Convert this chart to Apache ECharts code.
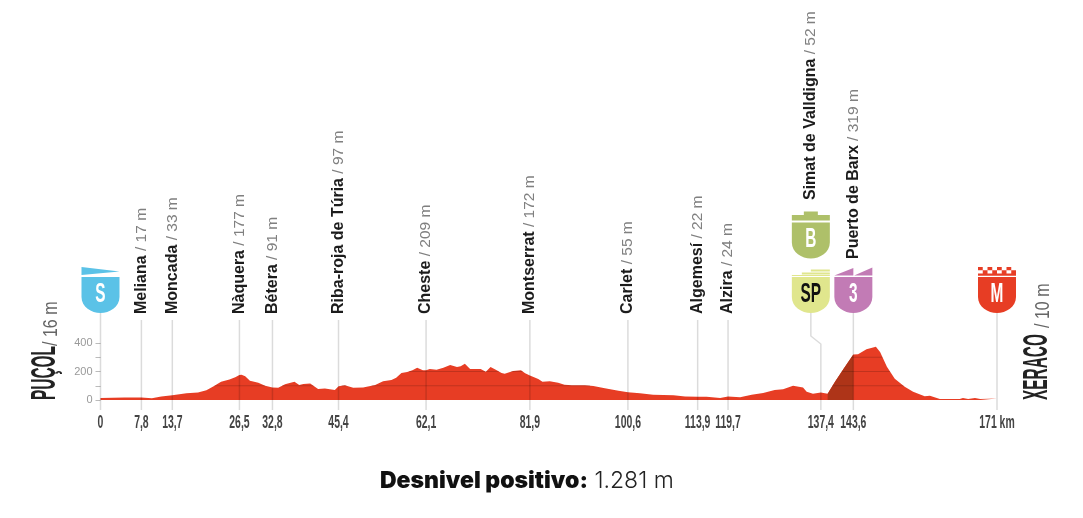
<!DOCTYPE html>
<html><head><meta charset="utf-8">
<style>html,body{margin:0;padding:0;background:#fff}#c{width:1083px;height:518px}</style>
<script src="https://cdn.jsdelivr.net/npm/echarts@6/dist/echarts.min.js"></script>
</head><body><div id="c"></div>
<script>
const profile = [[0,14],[4.6,17],[7.8,17],[9.8,12],[11.6,24],[13.7,33],[16.4,47],[18.6,52],[20.2,68],[21.5,94],[23,128],[24.6,143],[25.7,160],[26.5,175],[26.9,177],[27.6,167],[28.5,135],[30.1,121],[31.4,100],[32.8,88],[33.9,86],[35.2,110],[37,128],[37.9,105],[38.7,112],[40,115],[41.5,78],[42.8,80],[44.7,70],[45.4,97],[46.6,103],[48.2,86],[50.1,88],[52.4,105],[53.9,131],[55.5,140],[56.4,157],[57.4,189],[58.5,196],[59.5,208],[60.4,227],[61.5,208],[62.1,209],[62.8,218],[64.1,213],[65.4,227],[66.7,246],[68,232],[68.7,236],[69.5,255],[70.5,218],[71.4,218],[72.5,218],[73.5,199],[74.4,232],[75.4,213],[76.5,189],[77.1,185],[78.7,204],[80.2,208],[81,187],[81.9,172],[83.5,147],[84.3,128],[85.7,131],[87.3,121],[88.5,107],[89.9,103],[92.4,103],[94,98],[96.2,82],[98.8,65],[100.6,55],[102.9,47],[105.4,37],[109.3,34],[111.5,24],[113.9,22],[115.6,22],[118.2,14],[119.7,24],[122,20],[124.2,37],[126.4,50],[128.6,70],[130.2,75],[132.1,100],[134,88],[134.7,58],[135.9,44],[137.4,52],[138.7,44],[140.1,128],[142,234],[143.6,319],[144.5,321],[146.1,356],[147.9,374],[148.7,337],[150,234],[151.5,150],[153.4,93],[155,58],[157.2,26],[158.2,30],[160.1,7],[163.9,7],[164.5,14],[165.5,7],[166.8,14],[167.8,7],[171,10]];
const steepProfile = [[138.7,44],[140.1,128],[142,234],[143.6,319]];
const tickKm = [0,7.8,13.7,26.5,32.8,45.4,62.1,81.9,100.6,113.9,119.7,137.4,143.6,171];
const tickLabels = ['0','7,8','13,7','26,5','32,8','45,4','62,1','81,9','100,6','113,9','119,7','137,4','143,6','171 km'];
const placeKm = [7.8,13.7,26.5,32.8,45.4,62.1,81.9,100.6,113.9,119.7,137.4,143.6];
const placeNames = ['Meliana','Moncada','Nàquera','Bétera','Riba-roja de Túria','Cheste','Montserrat','Carlet','Algemesí','Alzira','Simat de Valldigna','Puerto de Barx'];
const placeAlts = [17,33,177,91,97,209,172,55,22,24,52,319];
const badgeKm = [0,137.4,137.4,143.6,171];
const badgeKinds = ['S','SP','B','3','M'];
const levels = [100,200,300];

const SANS = '"Liberation Sans",sans-serif';
const SIMAT_SHIFT = -10;
const body = 'M-19,-36H19V-16C19,-6 9,0 0,0C-9,0 -19,-6 -19,-16Z';
let checks = '';
for (let r = 0; r < 2; r++) for (let c = r; c < 8; c += 2) {
  const x = -19 + c * 4.75, y = -46 + r * 3.2;
  checks += `M${x},${y}h4.75v3.2h-4.75Z`;
}
checks += 'M-19,-39.6H19V-37.2H-19Z';
const badgeStyle = {
  S:  {fill:'#5BC2E7', top:'M-19,-46L19,-41.5L-19,-38Z', text:'#fff', lift:0},
  SP: {fill:'#E0E68D', top:'M-19,-38H19V-37H-19ZM-9,-40.4H19V-38.6H-9ZM0,-43.6H19V-41.6H0Z', text:'#111', lift:0, shift:SIMAT_SHIFT},
  B:  {fill:'#AEC069', top:'M-19,-43.5H19V-38H-19ZM-7,-47H7V-43.5H-7Z', text:'#fff', lift:54.5, shift:SIMAT_SHIFT},
  3:  {fill:'#C27BB5', top:'M-19,-37.5L0,-45V-37.5ZM0.8,-37.5L19,-45.5V-37.5Z', text:'#fff', lift:0},
  M:  {fill:'#E73D24', top:checks, text:'#fff', lift:0}
};

function seg(x1,y1,x2,y2,w,col){
  return {type:'line',shape:{x1,y1,x2,y2},style:{stroke:col,lineWidth:w,fill:null},silent:true};
}
function crossings(level){
  const out=[]; let start=null;
  for(let i=1;i<profile.length;i++){
    const [a,va]=profile[i-1],[b,vb]=profile[i];
    if(va<level&&vb>=level) start=a+(level-va)/(vb-va)*(b-a);
    if(va>=level&&vb<level&&start!==null){out.push([start,a+(level-va)/(vb-va)*(b-a)]);start=null;}
  }
  return out;
}
const bigLabel = (x,y,name,alt) => ({type:'group',children:[
  {type:'text',x:x,y:y,rotation:Math.PI/2,scaleX:0.44,style:{text:name,fontFamily:SANS,fontWeight:'bold',fontSize:35,fill:'#222',align:'left',verticalAlign:'middle'}},
  {type:'text',x:x+6,y:y-alt.at,rotation:Math.PI/2,scaleX:0.8,style:{text:alt.t,fontFamily:SANS,fontSize:20,fill:'#666',align:'left',verticalAlign:'middle'}}
]});

const option = {
  animation:false, backgroundColor:'#fff',
  title:{left:375,top:465,itemGap:0,text:'{a|Desnivel positivo:}{b| 1.281 m}',textStyle:{rich:{
    a:{fontFamily:'Inter,sans-serif',fontWeight:900,fontSize:23,color:'#111'},
    b:{fontFamily:'Inter,sans-serif',fontWeight:300,fontSize:23,color:'#222'}}}},
  grid:{left:100.5,width:896.5,top:343,height:57},
  xAxis:{type:'value',min:0,max:171,splitLine:{show:false},axisLine:{show:false},axisTick:{show:false},axisLabel:{show:false}},
  yAxis:{type:'value',min:0,max:400,interval:100,splitLine:{show:false},axisLine:{show:false},
    axisTick:{show:true,length:5,lineStyle:{color:'#bbb'}},
    axisLabel:{margin:8,color:'#999',fontFamily:SANS,fontSize:11,formatter:v=>v%200===0?String(v):''}},
  series:[
    {type:'line',name:'Perfil',data:profile,symbol:'none',lineStyle:{width:0},areaStyle:{color:'#E73D24',opacity:1},z:2},
    {type:'line',name:'Subida',data:steepProfile,symbol:'none',lineStyle:{width:0},areaStyle:{color:'#AE3418',opacity:1},z:3},
    {type:'custom',name:'niveles',data:levels,clip:false,z:4,silent:true,encode:{x:[],y:0},renderItem(p,api){
      const l=api.value(0),y=api.coord([0,l])[1];
      return {type:'group',children:crossings(l).map(([a,b])=>seg(api.coord([a,0])[0],y,api.coord([b,0])[0],y,1,'rgba(0,0,0,0.17)'))};
    }},
    {type:'custom',name:'lineas',data:tickKm,clip:false,z:5,silent:true,encode:{x:0,y:[]},renderItem(p,api){
      const km=api.value(0),x=api.coord([km,0])[0],y0=api.coord([km,0])[1];
      const col='rgba(0,0,0,0.14)',bottom=y0+10;
      const label={type:'text',x:x,y:y0+23,scaleX:0.58,style:{text:tickLabels[p.dataIndex],fontFamily:SANS,fontWeight:'bold',fontSize:18,fill:'#444',align:'center',verticalAlign:'middle'}};
      if(km===137.4) return {type:'group',children:[{type:'polyline',shape:{points:[[x+SIMAT_SHIFT,y0-87],[x+SIMAT_SHIFT,y0-64],[x,y0-56],[x,bottom]]},style:{stroke:col,lineWidth:1.5,fill:null}},label]};
      const top=(km===0||km===143.6||km===171)?y0-87:y0-80;
      return {type:'group',children:[seg(x,top,x,bottom,1.5,col),label]};
    }},
    {type:'custom',name:'lugares',data:placeKm,clip:false,z:6,silent:true,encode:{x:0,y:[]},renderItem(p,api){
      const i=p.dataIndex,km=placeKm[i],c=api.coord([km,0]);
      let x=c[0],y=c[1]-86;
      if(km===137.4){x+=SIMAT_SHIFT;y=c[1]-200;}
      if(km===143.6){y=c[1]-141;}
      return {type:'text',x:x,y:y,rotation:Math.PI/2,style:{
        text:`{a|${placeNames[i]}}{b| / ${placeAlts[i]} m}`,align:'left',verticalAlign:'middle',
        rich:{a:{fontFamily:SANS,fontWeight:'bold',fontSize:16,fill:'#1c1c1c'},
              b:{fontFamily:SANS,fontSize:15.5,fill:'#808080'}}}};
    }},
    {type:'custom',name:'insignias',data:badgeKm,clip:false,z:7,silent:true,encode:{x:0,y:[]},renderItem(p,api){
      const kind=badgeKinds[p.dataIndex],st=badgeStyle[kind],c=api.coord([api.value(0),0]);
      const x=c[0]+(st.shift||0),y=c[1]-87-st.lift;
      return {type:'group',x:x,y:y,children:[
        {type:'path',shape:{pathData:body+st.top,layout:'none'},style:{fill:st.fill}},
        {type:'text',x:0,y:-19,scaleX:0.55,style:{text:kind,fontFamily:SANS,fontWeight:'bold',fontSize:28,fill:st.text,align:'center',verticalAlign:'middle'}}
      ]};
    }},
    {type:'custom',name:'extremos',data:[0,171],clip:false,z:6,silent:true,encode:{x:0,y:[]},renderItem(p,api){
      const y0=api.coord([0,0])[1];
      if(p.dataIndex===0) return bigLabel(45.5,y0,'PUÇOL',{t:'/ 16 m',at:54});
      return bigLabel(1037.5,y0,'XERACO',{t:'/ 10 m',at:72});
    }}
  ]
};
const chart=echarts.init(document.getElementById('c'),null,{renderer:'canvas'});
chart.setOption(option);
</script></body></html>
